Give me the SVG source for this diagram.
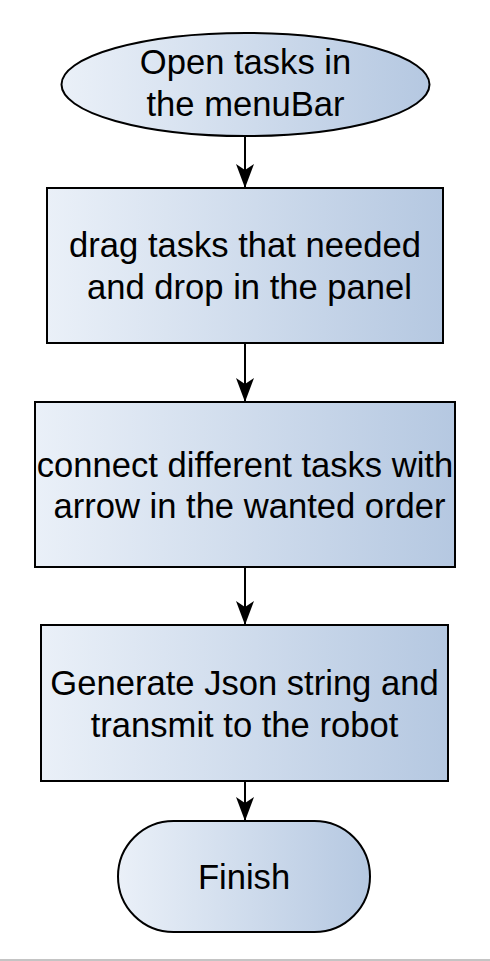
<svg xmlns="http://www.w3.org/2000/svg" width="490" height="961" viewBox="0 0 490 961">
<style>
.shape{stroke:#000;stroke-width:2;fill:url(#g)}
.lbl{font-family:"Liberation Sans",Arial,sans-serif;font-size:34.6px;fill:#000;text-anchor:middle}
.edge{stroke:#000;stroke-width:2;fill:none;marker-end:url(#ah)}
</style>
<defs>
<linearGradient id="g" x1="0" y1="0" x2="1" y2="0">
<stop offset="0" stop-color="#eaf0f8"/>
<stop offset="1" stop-color="#b5c8e1"/>
</linearGradient>
<marker id="ah" markerUnits="userSpaceOnUse" markerWidth="26" markerHeight="20" refX="24" refY="9" orient="auto" viewBox="0 0 26 20">
<path d="M0,0 L24,9 L0,18 L6,9 Z" fill="#000"/>
</marker>
</defs>
<rect width="490" height="961" fill="#fff"/>
<g id="connectors">
<line class="edge" x1="245" y1="137" x2="245" y2="188"/>
<line class="edge" x1="245" y1="343" x2="245" y2="402"/>
<line class="edge" x1="245" y1="567" x2="245" y2="625"/>
<line class="edge" x1="245" y1="781" x2="245" y2="821"/>
</g>
<g id="start">
<ellipse class="shape" cx="245.5" cy="84.5" rx="184" ry="51.5"/>
<text class="lbl" x="245.5" y="74">Open tasks in</text>
<text class="lbl" x="245.5" y="115.5">the menuBar</text>
</g>
<g id="drag">
<rect class="shape" x="47" y="188" width="396" height="155"/>
<text class="lbl" x="245" y="257">drag tasks that needed</text>
<text class="lbl" x="249.5" y="299">and drop in the panel</text>
</g>
<g id="connect">
<rect class="shape" x="35" y="402" width="420" height="165"/>
<text class="lbl" x="245" y="476.5">connect different tasks with</text>
<text class="lbl" x="249.5" y="518">arrow in the wanted order</text>
</g>
<g id="generate">
<rect class="shape" x="41" y="625" width="407" height="156"/>
<text class="lbl" x="244.5" y="695">Generate Json string and</text>
<text class="lbl" x="244.5" y="736.5">transmit to the robot</text>
</g>
<g id="finish">
<rect class="shape" x="118" y="821" width="252" height="111" rx="55.5" ry="55.5"/>
<text class="lbl" x="244" y="889">Finish</text>
</g>
<line x1="0" y1="960" x2="490" y2="960" stroke="#c4c4c4" stroke-width="2"/>
</svg>
